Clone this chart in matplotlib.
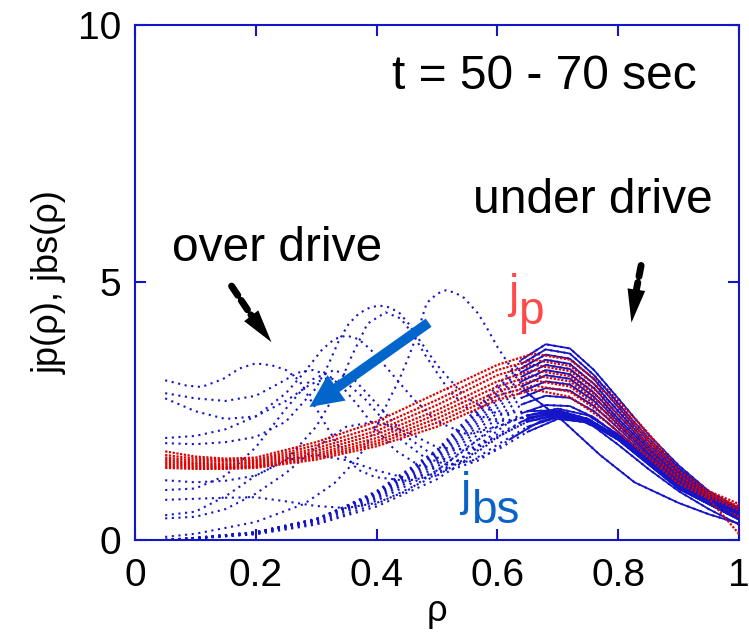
import numpy as np
import matplotlib
matplotlib.use("Agg")
import matplotlib.pyplot as plt

plt.rcParams['font.family'] = ['Liberation Sans', 'DejaVu Sans']

# bootstrap current profiles jbs(rho), solid blue band
rho_bs = [0.05, 0.1, 0.2, 0.3, 0.4, 0.5, 0.55, 0.6, 0.64, 0.68, 0.72, 0.76, 0.8, 0.85, 0.9, 0.95, 1.0]
jbs_curves = [
    [0.0, 0.03, 0.13, 0.38, 0.95, 1.75, 2.35, 3.0, 3.5, 3.8, 3.72, 3.3, 2.75, 2.05, 1.45, 0.95, 0.62],
    [0.0, 0.03, 0.13, 0.38, 0.93, 1.72, 2.3, 2.93, 3.42, 3.7, 3.62, 3.2, 2.65, 1.98, 1.4, 0.92, 0.6],
    [0.0, 0.03, 0.14, 0.4, 0.92, 1.7, 2.26, 2.86, 3.34, 3.6, 3.52, 3.12, 2.58, 1.92, 1.36, 0.9, 0.58],
    [0.0, 0.04, 0.14, 0.4, 0.9, 1.66, 2.2, 2.8, 3.26, 3.5, 3.42, 3.03, 2.5, 1.86, 1.32, 0.88, 0.57],
    [0.0, 0.04, 0.15, 0.41, 0.9, 1.62, 2.14, 2.72, 3.17, 3.4, 3.32, 2.95, 2.43, 1.81, 1.28, 0.86, 0.56],
    [0.0, 0.04, 0.15, 0.41, 0.88, 1.58, 2.08, 2.64, 3.08, 3.3, 3.22, 2.86, 2.36, 1.76, 1.25, 0.84, 0.55],
    [0.0, 0.04, 0.15, 0.4, 0.86, 1.53, 2.02, 2.56, 2.98, 3.2, 3.13, 2.78, 2.3, 1.72, 1.22, 0.82, 0.54],
    [0.0, 0.04, 0.15, 0.39, 0.83, 1.48, 1.95, 2.47, 2.88, 3.08, 3.02, 2.7, 2.24, 1.68, 1.2, 0.8, 0.53],
    [0.0, 0.04, 0.14, 0.37, 0.8, 1.42, 1.87, 2.37, 2.76, 2.95, 2.9, 2.6, 2.17, 1.64, 1.17, 0.78, 0.52],
    [0.0, 0.03, 0.13, 0.35, 0.76, 1.35, 1.78, 2.26, 2.63, 2.8, 2.76, 2.5, 2.1, 1.6, 1.14, 0.76, 0.5],
    [0.0, 0.03, 0.12, 0.32, 0.7, 1.26, 1.67, 2.12, 2.46, 2.62, 2.6, 2.38, 2.02, 1.55, 1.1, 0.74, 0.48],
    [0.0, 0.03, 0.11, 0.3, 0.65, 1.18, 1.57, 1.98, 2.3, 2.45, 2.42, 2.2, 1.85, 1.38, 0.95, 0.6, 0.3],
]

# plasma current profiles jp(rho), red band
rho_jp = [0.05, 0.1, 0.15, 0.2, 0.3, 0.4, 0.5, 0.6, 0.66, 0.72, 0.78, 0.84, 0.9, 0.95, 1.0]
jp_curves = [
    [1.72, 1.62, 1.58, 1.6, 1.9, 2.3, 2.85, 3.4, 3.62, 3.5, 2.95, 2.2, 1.4, 0.95, 0.7],
    [1.65, 1.58, 1.55, 1.56, 1.84, 2.2, 2.72, 3.3, 3.5, 3.38, 2.85, 2.12, 1.35, 0.92, 0.62],
    [1.6, 1.54, 1.52, 1.53, 1.78, 2.12, 2.62, 3.2, 3.4, 3.28, 2.75, 2.05, 1.3, 0.9, 0.55],
    [1.56, 1.5, 1.48, 1.5, 1.73, 2.05, 2.52, 3.08, 3.3, 3.18, 2.66, 1.98, 1.26, 0.88, 0.66],
    [1.52, 1.47, 1.45, 1.47, 1.68, 1.98, 2.44, 2.98, 3.2, 3.08, 2.57, 1.9, 1.22, 0.86, 0.5],
    [1.48, 1.44, 1.42, 1.44, 1.64, 1.92, 2.36, 2.88, 3.1, 2.98, 2.48, 1.84, 1.18, 0.84, 0.58],
    [1.44, 1.41, 1.4, 1.42, 1.6, 1.87, 2.28, 2.8, 3.0, 2.88, 2.4, 1.77, 1.14, 0.82, 0.45],
    [1.4, 1.38, 1.38, 1.4, 1.56, 1.82, 2.2, 2.72, 2.92, 2.78, 2.3, 1.7, 1.1, 0.8, 0.12],
]

# over-driven jbs profiles (dotted blue bumps)
od_a_rho = [0.05, 0.1, 0.2, 0.28, 0.33, 0.37, 0.4, 0.42, 0.437, 0.453, 0.465, 0.483, 0.5, 0.515,
            0.53, 0.545, 0.568, 0.585, 0.6, 0.618, 0.65, 0.705, 0.77, 0.827, 0.9, 0.95, 1.0]
od_a_j = [0.06, 0.12, 0.35, 0.7, 1.1, 1.6, 2.2, 2.71, 3.1, 3.55, 3.93, 4.6, 4.78, 4.85,
          4.8, 4.7, 4.4, 4.07, 3.75, 3.43, 2.85, 2.35, 1.65, 1.12, 0.72, 0.5, 0.32]
od_b1_rho = [0.05, 0.1, 0.15, 0.2, 0.25, 0.3, 0.32, 0.338, 0.354, 0.371, 0.39, 0.405, 0.42,
             0.437, 0.453, 0.47, 0.5, 0.547, 0.6, 0.65, 0.7, 0.75, 0.8, 0.9, 1.0]
od_b1_j = [1.88, 1.86, 1.9, 2.0, 2.3, 2.95, 3.4, 3.88, 4.2, 4.4, 4.52, 4.55, 4.52,
           4.42, 4.2, 3.9, 3.4, 2.77, 2.45, 2.5, 2.52, 2.35, 2.0, 1.05, 0.42]
od_b2_rho = [0.05, 0.1, 0.15, 0.2, 0.25, 0.3, 0.33, 0.36, 0.385, 0.415, 0.44, 0.46, 0.48,
             0.52, 0.56, 0.6, 0.65, 0.7, 0.75, 0.8, 0.9, 1.0]
od_b2_j = [1.16, 1.12, 1.15, 1.25, 1.55, 2.2, 2.8, 3.6, 4.2, 4.42, 4.3, 4.0, 3.6,
           2.9, 2.45, 2.3, 2.38, 2.45, 2.3, 1.95, 1.0, 0.4]
od_c_rho = [0.05, 0.1, 0.15, 0.2, 0.25, 0.28, 0.31, 0.33, 0.35, 0.37, 0.39, 0.42, 0.46,
            0.5, 0.55, 0.6, 0.65, 0.7, 0.75, 0.8, 0.9, 1.0]
od_c_j = [1.98, 2.02, 2.15, 2.4, 2.85, 3.25, 3.7, 3.9, 3.97, 3.9, 3.7, 3.3, 2.75,
          2.3, 2.05, 2.2, 2.42, 2.55, 2.42, 2.05, 1.1, 0.45]
od_d1_rho = [0.05, 0.085, 0.11, 0.145, 0.173, 0.2, 0.227, 0.25, 0.272, 0.288, 0.305, 0.321,
             0.349, 0.37, 0.398, 0.45, 0.5, 0.55, 0.6, 0.65, 0.7, 0.75, 0.8, 0.9, 1.0]
od_d1_j = [3.1, 3.0, 2.97, 3.12, 3.33, 3.43, 3.39, 3.3, 3.1, 2.77, 2.46, 2.13,
           1.6, 1.36, 1.22, 1.15, 1.25, 1.6, 2.0, 2.3, 2.42, 2.3, 1.95, 1.0, 0.4]
od_d2_rho = [0.05, 0.1, 0.15, 0.2, 0.24, 0.27, 0.295, 0.32, 0.345, 0.37, 0.4, 0.43, 0.47,
             0.52, 0.57, 0.62, 0.67, 0.7, 0.75, 0.8, 0.9, 1.0]
od_d2_j = [2.85, 2.75, 2.7, 2.8, 3.05, 3.25, 3.3, 3.2, 2.95, 2.6, 2.15, 1.75, 1.45,
           1.35, 1.55, 1.95, 2.3, 2.4, 2.3, 1.95, 1.0, 0.4]
od_d3_rho = [0.05, 0.1, 0.15, 0.2, 0.25, 0.29, 0.32, 0.35, 0.38, 0.41, 0.44, 0.48, 0.52,
             0.56, 0.6, 0.65, 0.7, 0.75, 0.8, 0.9, 1.0]
od_d3_j = [2.75, 2.5, 2.35, 2.4, 2.7, 3.02, 3.15, 3.05, 2.75, 2.35, 1.95, 1.6, 1.45,
           1.55, 1.85, 2.2, 2.38, 2.3, 1.95, 1.0, 0.4]
od_e_rho = [0.05, 0.1, 0.15, 0.2, 0.25, 0.29, 0.33, 0.36, 0.4, 0.45, 0.5, 0.55, 0.6,
            0.65, 0.7, 0.75, 0.8, 0.9, 1.0]
od_e_j = [0.97, 1.0, 1.25, 1.8, 2.55, 3.1, 3.3, 3.15, 2.65, 2.0, 1.6, 1.5, 1.75,
          2.1, 2.35, 2.28, 1.95, 1.0, 0.4]
od_low_rho = [0.05, 0.1, 0.15, 0.2, 0.25, 0.3, 0.35, 0.4, 0.45, 0.5, 0.55, 0.6, 0.65,
              0.7, 0.75, 0.8, 0.9, 1.0]
od_f_j = [0.78, 0.8, 0.82, 0.83, 0.75, 0.66, 0.62, 0.72, 0.95, 1.35, 1.8, 2.2, 2.42,
          2.5, 2.35, 2.0, 1.05, 0.42]
od_g_j = [0.48, 0.55, 0.85, 1.25, 1.55, 1.65, 1.55, 1.35, 1.2, 1.3, 1.65, 2.05, 2.35,
          2.48, 2.35, 2.0, 1.05, 0.42]
od_h_j = [0.42, 0.45, 0.6, 0.9, 1.3, 1.8, 2.2, 2.3, 2.1, 1.8, 1.75, 2.0, 2.3,
          2.45, 2.32, 2.0, 1.05, 0.42]

overdrive = [(od_a_rho, od_a_j), (od_b1_rho, od_b1_j), (od_b2_rho, od_b2_j),
             (od_c_rho, od_c_j), (od_d1_rho, od_d1_j), (od_d2_rho, od_d2_j),
             (od_d3_rho, od_d3_j), (od_e_rho, od_e_j), (od_low_rho, od_f_j),
             (od_low_rho, od_g_j), (od_low_rho, od_h_j)]

x_ticks = [0, 0.2, 0.4, 0.6, 0.8, 1.0]
x_ticklabels = ['0', '0.2', '0.4', '0.6', '0.8', '1']
y_ticks = [0, 5, 10]
y_ticklabels = ['0', '5', '10']

BLUE = '#1414c8'
RED = '#e00000'
SOLID_FROM = 0.62

fig = plt.figure(figsize=(7.49, 6.37), dpi=100)
ax = fig.add_axes([0.1802, 0.1523, 0.8064, 0.8085])

dots = (0, (1.0, 2.2))

def draw_blue(r, j, z):
    r = np.asarray(r)
    j = np.asarray(j)
    ax.plot(r, j, color=BLUE, lw=1.5, linestyle=dots, zorder=z)
    m = r >= SOLID_FROM
    ax.plot(r[m], j[m], color=BLUE, lw=1.3, zorder=z)

for r, j in overdrive:
    draw_blue(r, j, 2)

for i, j in enumerate(jbs_curves):
    draw_blue(rho_bs, j, 2 if i % 2 == 0 else 4)

for i, j in enumerate(jp_curves):
    ax.plot(rho_jp, j, color=RED, lw=1.6, linestyle=(0, (1.0, 0.7)),
            zorder=3 if i % 2 == 0 else 5)

ax.set_xlim(0, 1)
ax.set_ylim(0, 10)
ax.set_xticks(x_ticks)
ax.set_xticklabels(x_ticklabels)
ax.set_yticks(y_ticks)
ax.set_yticklabels(y_ticklabels)
ax.tick_params(direction='in', length=8, width=1.5, color=BLUE,
               top=True, right=True, labelsize=28)
ax.tick_params(axis='x', pad=13)
ax.tick_params(axis='y', pad=10)
for s in ax.spines.values():
    s.set_color(BLUE)
    s.set_linewidth(1.5)

ax.set_xlabel('ρ', fontsize=26, labelpad=0)
ax.set_ylabel('jp(ρ), jbs(ρ)', fontsize=26, labelpad=8)

# annotations
ax.text(0.425, 9.0, 't = 50 - 70 sec', fontsize=34.5, va='center', ha='left')
ax.text(0.56, 6.6, 'under drive', fontsize=34.5, va='center', ha='left')
ax.text(0.061, 5.66, 'over drive', fontsize=34.5, va='center', ha='left')

ax.text(0.618, 4.53, 'j', fontsize=33, color='#ff4a4a', va='baseline')
ax.text(0.634, 4.2, 'p', fontsize=33, color='#ff4a4a', va='baseline')
ax.text(0.538, 0.68, 'j', fontsize=33, color='#0a64c8', va='baseline')
ax.text(0.556, 0.33, 'bs', fontsize=33, color='#0a64c8', va='baseline')

# blue trend arrow
ax.annotate('', xy=(0.285, 2.55), xytext=(0.49, 4.25),
            arrowprops=dict(arrowstyle='simple,head_length=0.8,head_width=0.75,tail_width=0.24',
                            mutation_scale=30, color='#0066cc', lw=0), zorder=6)

# dashed black arrows
def dashed_arrow(start, base, tip):
    ax.annotate('', xy=base, xytext=start,
                arrowprops=dict(arrowstyle='-', lw=5, color='k',
                                linestyle=(0, (1.6, 0.9)), shrinkA=0, shrinkB=0), zorder=6)
    ax.annotate('', xy=tip, xytext=base,
                arrowprops=dict(arrowstyle='-|>,head_length=1.2,head_width=0.32',
                                mutation_scale=20, lw=0, color='k',
                                shrinkA=0, shrinkB=0), zorder=6)

dashed_arrow((0.16, 4.93), (0.196, 4.3), (0.226, 3.84))
dashed_arrow((0.838, 5.33), (0.83, 4.85), (0.822, 4.22))

fig.savefig('out.png', dpi=100)
